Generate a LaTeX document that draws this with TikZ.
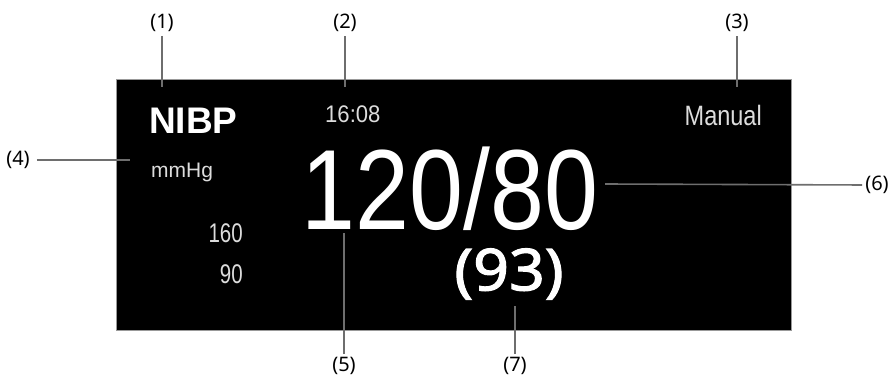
\documentclass[tikz,border=0pt]{standalone}
\usepackage{fontspec}
\usepackage{graphicx}
\setmainfont{Noto Sans}
\newfontfamily\scr{Liberation Sans}
\newfontfamily\mapfont{Noto Sans}[FakeBold=1.8]
\definecolor{callgray}{HTML}{6E6E6E}
\definecolor{scrgray}{HTML}{DCDCDC}
\tikzset{
  lbl/.style={inner sep=0pt, font=\fontsize{20}{22}\selectfont, text=black},
  callout/.style={draw=callgray, line width=1.6pt},
  scrtext/.style={inner sep=0pt, text=scrgray},
  screen/.style={fill=black, draw=callgray!70, line width=0.8pt}
}
\begin{document}
\begin{tikzpicture}[x=1pt,y=-1pt]
\useasboundingbox (0,0) rectangle (896,377);
\fill[white] (0,0) rectangle (896,377);
% screen
\node[screen, minimum width=675pt, minimum height=251pt, inner sep=0pt, anchor=north west] (scr) at (116,79) {};
% screen texts
\node[inner sep=0pt, text=white, anchor=base west, font=\scr\bfseries\fontsize{37}{40}\selectfont] (nibp) at (149,133) {NIBP};
\node[scrtext, anchor=base west, font=\scr\fontsize{24}{26}\selectfont] (time) at (325,123) {\scalebox{0.92}[1]{16:08}};
\node[scrtext, anchor=base east, font=\scr\fontsize{28}{30}\selectfont] (mode) at (762,125) {\scalebox{0.84}[1]{Manual}};
\node[scrtext, anchor=base west, font=\scr\fontsize{21}{23}\selectfont] (unit) at (151,177) {mmHg};
\node[scrtext, anchor=base east, font=\scr\fontsize{27}{29}\selectfont] (hi) at (243,242) {\scalebox{0.76}[1]{160}};
\node[scrtext, anchor=base east, font=\scr\fontsize{27}{29}\selectfont] (lo) at (243,283) {\scalebox{0.76}[1]{90}};
\node[inner sep=0pt, text=white, font=\scr\fontsize{114}{120}\selectfont] (bp) at (450,188.5) {\scalebox{0.85}[1]{120/80}};
\node[inner sep=0pt, text=white, font=\mapfont\fontsize{58}{62}\selectfont] (map) at (509,274) {\scalebox{1.08}[1]{(93)}};
% labels
\node[lbl] (l1) at (162,23) {(1)};
\node[lbl] (l2) at (345,23) {(2)};
\node[lbl] (l3) at (737,23) {(3)};
\node[lbl] (l4) at (18,160) {(4)};
\node[lbl] (l5) at (344,366) {(5)};
\node[lbl] (l6) at (877,185) {(6)};
\node[lbl] (l7) at (515,366) {(7)};
% callout end points
\coordinate (c1) at (161,87);
\coordinate (c2) at (344,87);
\coordinate (c3) at (737,87);
\coordinate (c4) at (130,160);
\coordinate (c5) at (344,233);
\coordinate (c6) at (605,184);
\coordinate (c7) at (515,306);
\draw[callout, shorten <=4pt] (l1.south) -- (l1.south |- c1);
\draw[callout, shorten <=4pt] (l2.south) -- (l2.south |- c2);
\draw[callout, shorten <=4pt] (l3.south) -- (l3.south |- c3);
\draw[callout, shorten <=7pt] (l4.east) -- (c4);
\draw[callout, shorten <=3pt] (l5.north) -- (c5);
\draw[callout, shorten <=3pt] (l6.west) -- (c6);
\draw[callout, shorten <=3pt] (l7.north) -- (c7);
\end{tikzpicture}
\end{document}
